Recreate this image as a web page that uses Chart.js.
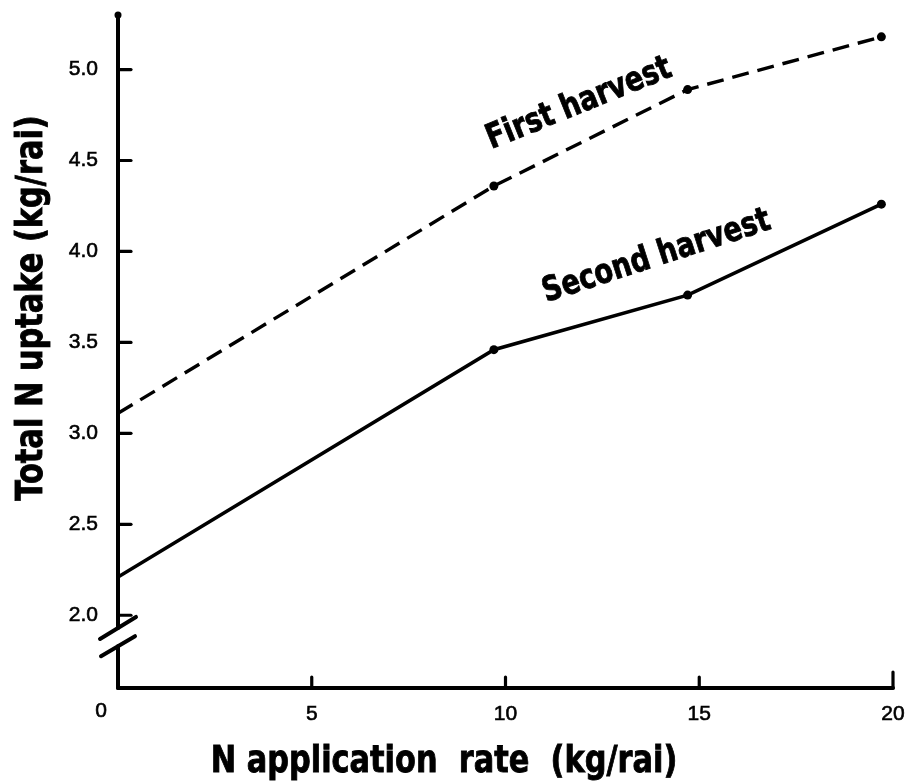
<!DOCTYPE html>
<html>
<head>
<meta charset="utf-8">
<script src="https://cdn.jsdelivr.net/npm/chart.js@4.4.0/dist/chart.umd.min.js"></script>
<style>
  html, body { margin: 0; padding: 0; background: #fff; }
  canvas { display: block; }
</style>
</head>
<body>
<canvas id="chart" width="913" height="784"></canvas>
<script>
// N rate (kg/rai) and total N uptake (kg/rai)
const rates = [0, 9.7, 14.7, 19.7];
const firstHarvest = [3.11, 4.36, 4.89, 5.18];
const secondHarvest = [2.21, 3.46, 3.76, 4.26];
const yTicks = [2.0, 2.5, 3.0, 3.5, 4.0, 4.5, 5.0];
const xTicks = [5, 10, 15, 20];
const seriesNames = ['First harvest', 'Second harvest'];
const xTitle = 'N application  rate  (kg/rai)';
const yTitle = 'Total N uptake (kg/rai)';

const heavyFamily = "'DejaVu Sans', 'Liberation Sans', sans-serif";
const tickFont = { family: "'Liberation Sans', Arial, sans-serif", size: 21 };

const toPoints = vals => vals.map((v, i) => ({ x: rates[i], y: v }));

// bold, squeezed sideways to look like the condensed type of the original
function heavyText(ctx, text, size, squeeze) {
  ctx.font = 'bold ' + size + 'px ' + heavyFamily;
  ctx.scale(squeeze, 1);
  ctx.lineWidth = 0.9;
  ctx.fillText(text, 0, 0);
  ctx.strokeText(text, 0, 0);
}

const handAxes = {
  id: 'handAxes',
  afterDraw(chart) {
    const { ctx, chartArea: a, scales: { x, y } } = chart;
    const line = (x1, y1, x2, y2) => { ctx.beginPath(); ctx.moveTo(x1, y1); ctx.lineTo(x2, y2); ctx.stroke(); };
    ctx.save();
    ctx.strokeStyle = '#000';
    ctx.fillStyle = '#000';
    ctx.lineCap = 'round';
    ctx.lineWidth = 4;

    // y axis with a break near the bottom
    const hi = y.getPixelForValue(1.93), lo = y.getPixelForValue(1.83);
    line(a.left, a.top, a.left, hi);
    line(a.left, lo, a.left, a.bottom);
    line(a.left, a.bottom, a.right, a.bottom);
    line(a.left - 18, hi + 11, a.left + 18, hi - 11);
    line(a.left - 17, lo + 10, a.left + 17, lo - 10);
    ctx.beginPath();
    ctx.arc(a.left, a.top, 3.5, 0, Math.PI * 2);
    ctx.fill();

    // inward ticks
    ctx.lineWidth = 3.2;
    yTicks.forEach(v => { const py = y.getPixelForValue(v); line(a.left, py, a.left + 13, py); });
    xTicks.forEach(v => { const px = x.getPixelForValue(v); line(px, a.bottom, px, a.bottom - (v === 20 ? 16 : 11)); });

    // the lone 0 under the corner
    ctx.font = tickFont.size + 'px ' + tickFont.family;
    ctx.textAlign = 'center';
    ctx.textBaseline = 'middle';
    ctx.lineWidth = 0.6;
    ctx.fillText('0', a.left - 17, a.bottom + 23);
    ctx.strokeText('0', a.left - 17, a.bottom + 23);

    // axis titles
    ctx.save();
    ctx.translate(32, 308);
    ctx.rotate(-Math.PI / 2);
    heavyText(ctx, yTitle, 38, 0.8);
    ctx.restore();

    ctx.save();
    ctx.translate(444, 762);
    heavyText(ctx, xTitle, 38, 0.8);
    ctx.restore();

    // curve labels
    const labels = [[11.9, 4.81, -22], [13.9, 3.97, -18]];
    labels.forEach(([lx, ly, deg], i) => {
      ctx.save();
      ctx.translate(x.getPixelForValue(lx), y.getPixelForValue(ly));
      ctx.rotate(deg * Math.PI / 180);
      heavyText(ctx, seriesNames[i], 34, 0.8);
      ctx.restore();
    });
    ctx.restore();
  }
};

const lineStyle = {
  borderColor: '#000',
  pointRadius: c => c.dataIndex === 0 ? 0 : 4.5,
  pointBackgroundColor: '#000',
  pointBorderWidth: 0,
  tension: 0,
  fill: false
};

new Chart(document.getElementById('chart'), {
  type: 'line',
  data: {
    datasets: [
      { ...lineStyle, label: seriesNames[0], data: toPoints(firstHarvest), borderWidth: 3.4, borderDash: [17, 9] },
      { ...lineStyle, label: seriesNames[1], data: toPoints(secondHarvest), borderWidth: 3.6 }
    ]
  },
  options: {
    responsive: false,
    animation: false,
    layout: { padding: { top: 15, right: 20, left: 0, bottom: 0 } },
    plugins: { legend: { display: false }, tooltip: { enabled: false } },
    scales: {
      x: {
        type: 'linear',
        min: 0,
        max: 20,
        afterBuildTicks: s => { s.ticks = xTicks.map(v => ({ value: v })); },
        afterFit: s => { s.height = 96; s.paddingLeft = 0; s.paddingRight = 0; },
        grid: { display: false, drawTicks: false },
        border: { display: false },
        ticks: { color: '#000', font: tickFont, padding: 14, maxRotation: 0, textStrokeColor: '#000', textStrokeWidth: 0.6 }
      },
      y: {
        type: 'linear',
        min: 1.6,
        max: 5.3,
        afterBuildTicks: s => { s.ticks = yTicks.map(v => ({ value: v })); },
        afterFit: s => { s.width = 118; s.paddingTop = 0; s.paddingBottom = 0; },
        grid: { display: false, drawTicks: false },
        border: { display: false },
        ticks: { color: '#000', font: tickFont, padding: 20, textStrokeColor: '#000', textStrokeWidth: 0.6, callback: v => v.toFixed(1) }
      }
    }
  },
  plugins: [handAxes]
});
</script>
</body>
</html>
